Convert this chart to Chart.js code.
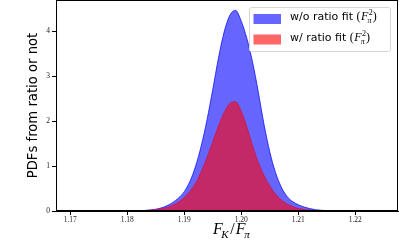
<!DOCTYPE html>
<html>
<head>
<meta charset="utf-8">
<script src="https://cdn.jsdelivr.net/npm/chart.js@4"></script>
<style>
  html, body { margin: 0; padding: 0; background: #fff; }
  #wrap { width: 399px; height: 246px; }
</style>
</head>
<body>
<div id="wrap"><canvas id="pdfChart" width="399" height="246"></canvas></div>
<script>
// x grid of the curves (F_K / F_pi)
const xs = [1.175, 1.176, 1.177, 1.178, 1.179, 1.180, 1.181, 1.182, 1.183, 1.184,
            1.185, 1.186, 1.187, 1.188, 1.189, 1.190, 1.191, 1.192, 1.193, 1.194,
            1.195, 1.196, 1.197, 1.198, 1.199, 1.200, 1.201, 1.202, 1.203, 1.204,
            1.205, 1.206, 1.207, 1.208, 1.209, 1.210, 1.211, 1.212, 1.213, 1.214,
            1.215, 1.216, 1.217, 1.218, 1.219, 1.220];
// w/o ratio fit (blue)
const noRatio = [0, 0, 0, 0, 0, 0.001, 0.003, 0.006, 0.012, 0.022,
                 0.04, 0.07, 0.12, 0.19, 0.29, 0.43, 0.66, 1.00, 1.46, 2.03,
                 2.70, 3.40, 3.98, 4.35, 4.46, 4.22, 3.83, 3.30, 2.64, 1.92,
                 1.32, 0.86, 0.54, 0.33, 0.21, 0.14, 0.09, 0.055, 0.03, 0.017,
                 0.008, 0.003, 0, 0, 0, 0];
// w/ ratio fit (red)
const withRatio = [0, 0, 0, 0, 0, 0.001, 0.002, 0.005, 0.01, 0.018,
                   0.03, 0.05, 0.08, 0.13, 0.20, 0.30, 0.44, 0.62, 0.88, 1.19,
                   1.54, 1.89, 2.19, 2.39, 2.43, 2.22, 1.86, 1.45, 1.08, 0.79,
                   0.56, 0.38, 0.25, 0.16, 0.10, 0.06, 0.035, 0.018, 0.008, 0.003,
                   0, 0, 0, 0, 0, 0];
const xTicks = [1.17, 1.18, 1.19, 1.20, 1.21, 1.22];
const yTicks = [0, 1, 2, 3, 4];

const toPoints = vals => vals.map((v, i) => ({ x: xs[i], y: v }));
const tickFont = { family: "'Liberation Serif', 'DejaVu Serif', serif", size: 7.5 };
const serif = "'Liberation Serif', 'DejaVu Serif', serif";

// draws "F" with sub/superscript like matplotlib mathtext
function drawMath(ctx, x, y, size, sub, sup) {
    ctx.font = `italic ${size}px ${serif}`;
    ctx.fillText('F', x, y);
    const w = ctx.measureText('F').width;
    const small = Math.round(size * 0.7);
    ctx.font = `italic ${small}px ${serif}`;
    let ww = 0;
    if (sub) {
        ctx.fillText(sub, x + w - size * 0.08, y + size * 0.25);
        ww = ctx.measureText(sub).width;
    }
    if (sup) {
        ctx.font = `${small}px ${serif}`;
        ctx.fillText(sup, x + w + 0.5, y - size * 0.38);
        ww = Math.max(ww, ctx.measureText(sup).width);
    }
    return w + ww - size * 0.05;
}

function mathWidth(ctx, size, sub, sup) {
    ctx.font = `italic ${size}px ${serif}`;
    const w = ctx.measureText('F').width;
    const small = Math.round(size * 0.7);
    ctx.font = `italic ${small}px ${serif}`;
    let ww = sub ? ctx.measureText(sub).width : 0;
    if (sup) ww = Math.max(ww, ctx.measureText(sup).width);
    return w + ww - size * 0.05;
}

const decorations = {
    id: 'decorations',
    afterDraw: (chart) => {
        const ctx = chart.ctx;
        const area = chart.chartArea;
        ctx.save();
        // frame
        ctx.strokeStyle = '#000';
        ctx.lineWidth = 1;
        ctx.strokeRect(Math.round(area.left) + 0.5, Math.round(area.top) + 0.5,
                       Math.round(area.right - area.left) - 1, Math.round(area.bottom - area.top) - 1);

        // y label
        ctx.fillStyle = '#000';
        ctx.font = "13.2px 'DejaVu Sans', sans-serif";
        ctx.textAlign = 'center';
        ctx.textBaseline = 'middle';
        ctx.translate(34, (area.top + area.bottom) / 2);
        ctx.rotate(-Math.PI / 2);
        ctx.fillText('PDFs from ratio or not', 0, 0);
        ctx.setTransform(1, 0, 0, 1, 0, 0);

        // x label  F_K / F_pi
        ctx.textAlign = 'left';
        ctx.textBaseline = 'alphabetic';
        const size = 16;
        ctx.font = `${size}px ${serif}`;
        const slashW = ctx.measureText('/').width;
        const total = mathWidth(ctx, size, 'K') + slashW + 2 + mathWidth(ctx, size, 'π');
        let x = 231.5 - total / 2;
        const by = 234;
        x += drawMath(ctx, x, by, size, 'K');
        ctx.font = `${size}px ${serif}`;
        ctx.fillText('/', x + 1, by);
        x += slashW + 2;
        drawMath(ctx, x, by, size, 'π');

        // legend
        const lx = 249.5, ly = 7.5, lw = 141, lh = 44;
        ctx.beginPath();
        ctx.roundRect(lx, ly, lw, lh, 2);
        ctx.fillStyle = 'rgba(255,255,255,0.8)';
        ctx.fill();
        ctx.strokeStyle = '#d6d6d6';
        ctx.stroke();
        const entries = [
            { label: 'w/o ratio fit', color: 'rgba(0,0,255,0.6)', y: 14, base: 20 },
            { label: 'w/ ratio fit', color: 'rgba(255,0,0,0.6)', y: 34.5, base: 41 }
        ];
        entries.forEach(e => {
            ctx.fillStyle = e.color;
            ctx.fillRect(253.5, e.y, 27.5, 10);
            ctx.fillStyle = '#000';
            ctx.font = "11px 'DejaVu Sans', sans-serif";
            const tx = 290, ty = e.base;
            ctx.fillText(e.label, tx, ty);
            let px = tx + ctx.measureText(e.label + ' ').width;
            ctx.font = `12px ${serif}`;
            ctx.fillText('(', px, ty);
            px += ctx.measureText('(').width + 0.5;
            px += drawMath(ctx, px, ty, 12, 'π', '2') + 1;
            ctx.font = `12px ${serif}`;
            ctx.fillText(')', px, ty);
        });
        ctx.restore();
    }
};

const ctx = document.getElementById('pdfChart').getContext('2d');
new Chart(ctx, {
    type: 'line',
    data: {
        datasets: [{
            label: 'w/ ratio fit',
            data: toPoints(withRatio),
            fill: 'origin',
            backgroundColor: 'rgba(255,0,0,0.6)',
            borderColor: 'rgba(230,0,40,0.6)',
            borderWidth: 1,
            pointRadius: 0,
            cubicInterpolationMode: 'monotone',
            order: 1
        }, {
            label: 'w/o ratio fit',
            data: toPoints(noRatio),
            fill: 'origin',
            backgroundColor: 'rgba(0,0,255,0.6)',
            borderColor: 'rgba(0,0,240,0.7)',
            borderWidth: 1,
            pointRadius: 0,
            cubicInterpolationMode: 'monotone',
            order: 2
        }]
    },
    options: {
        responsive: false,
        animation: false,
        layout: { padding: { top: 0, right: 1, left: 0, bottom: 0 } },
        scales: {
            x: {
                type: 'linear',
                min: 1.1675,
                max: 1.2275,
                afterBuildTicks: sc => { sc.ticks = xTicks.map(v => ({ value: v })); },
                afterFit: sc => { sc.height = 35; sc.paddingLeft = 0; sc.paddingRight = 0; },
                ticks: {
                    font: tickFont,
                    color: '#222',
                    padding: 1,
                    maxRotation: 0,
                    callback: v => v.toFixed(2)
                },
                grid: { drawOnChartArea: false, drawTicks: true, tickLength: 4, color: '#000' },
                border: { color: '#000', width: 1 }
            },
            y: {
                min: 0,
                max: 4.69,
                afterBuildTicks: sc => { sc.ticks = yTicks.map(v => ({ value: v })); },
                afterFit: sc => { sc.width = 56; sc.paddingTop = 0; sc.paddingBottom = 0; },
                ticks: {
                    font: tickFont,
                    color: '#222',
                    padding: 2,
                    callback: v => String(v)
                },
                grid: { drawOnChartArea: false, drawTicks: true, tickLength: 4, color: '#000' },
                border: { color: '#000', width: 1 }
            }
        },
        plugins: {
            legend: { display: false },
            tooltip: { enabled: false }
        }
    },
    plugins: [decorations]
});
</script>
</body>
</html>
